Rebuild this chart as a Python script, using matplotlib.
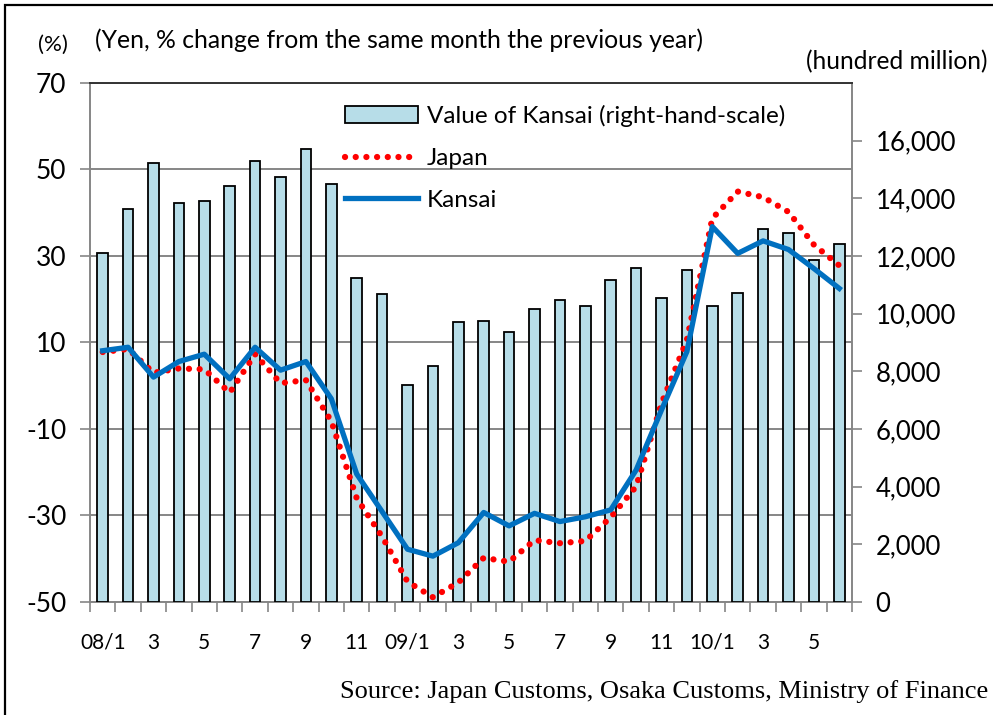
import matplotlib
matplotlib.use("Agg")
import matplotlib.pyplot as plt
import numpy as np
from matplotlib.patches import Rectangle

plt.rcParams['font.family'] = ['Lato', 'DejaVu Sans']

months = ["08/1", "08/2", "08/3", "08/4", "08/5", "08/6", "08/7", "08/8", "08/9", "08/10", "08/11", "08/12",
          "09/1", "09/2", "09/3", "09/4", "09/5", "09/6", "09/7", "09/8", "09/9", "09/10", "09/11", "09/12",
          "10/1", "10/2", "10/3", "10/4", "10/5", "10/6"]
tick_labels = ["08/1", "", "3", "", "5", "", "7", "", "9", "", "11", "",
               "09/1", "", "3", "", "5", "", "7", "", "9", "", "11", "",
               "10/1", "", "3", "", "5", ""]
value_kansai = [12100, 13640, 15240, 13830, 13910, 14440, 15300, 14750, 15720, 14500, 11250, 10690,
                7530, 8200, 9720, 9760, 9350, 10160, 10470, 10280, 11170, 11580, 10530, 11500,
                10270, 10700, 12950, 12790, 11860, 12420]
japan = [7.8, 8.5, 3.0, 4.0, 3.8, -1.6, 7.3, 0.6, 1.3, -8.2, -26.0, -34.9,
         -45.3, -48.9, -45.5, -39.8, -40.7, -35.7, -36.4, -35.9, -30.4, -23.3, -4.1, 10.6,
         38.7, 44.9, 43.6, 40.2, 32.6, 27.8]
kansai = [8.1, 8.9, 2.0, 5.6, 7.3, 1.6, 8.9, 3.6, 5.6, -3.0, -20.4, -29.1,
          -37.8, -39.4, -36.3, -29.3, -32.4, -29.5, -31.4, -30.3, -28.7, -19.5, -5.6, 7.9,
          36.8, 30.6, 33.5, 31.5, 27.1, 22.5]

W, H = 993, 715
fig = plt.figure(figsize=(W / 100, H / 100), dpi=100)

# outer border
fig.patches.append(Rectangle((5 / W, -0.1), 1.2, 1 - 5 / H + 0.1, transform=fig.transFigure,
                             fill=False, edgecolor='black', lw=1.6, zorder=0))

grey = '#868686'
x = np.arange(len(months))

ax = fig.add_axes([90 / W, 1 - 602 / H, 762 / W, 519 / H])
ax.set_xlim(-0.5, len(months) - 0.5)
ax.set_ylim(-50, 70)
ax.set_yticks(np.arange(-50, 71, 20))
ax.yaxis.grid(True, color=grey, lw=1.4)
ax.set_axisbelow(True)
ax.tick_params(axis='y', direction='out', length=7, color=grey, width=1.2, labelsize=19, pad=10)
ax.set_yticklabels([str(v) for v in range(-50, 71, 20)])
# x ticks: boundaries as minor ticks, labels at centers
ax.set_xticks(x)
ax.set_xticklabels(tick_labels)
ax.set_xticks(np.arange(-0.5, len(months), 1), minor=True)
ax.tick_params(axis='x', which='major', length=0, labelsize=15, pad=22)
ax.tick_params(axis='x', which='minor', direction='out', length=7, color=grey, width=1.2)
for s in ['left', 'bottom', 'right']:
    ax.spines[s].set_color(grey)
    ax.spines[s].set_linewidth(1.4)
ax.spines['top'].set_color('#333333')
ax.spines['top'].set_linewidth(1.4)

ax_bar = ax.twinx()
ax_bar.set_ylim(0, 18000)
ax_bar.set_yticks(np.arange(0, 16001, 2000))
ax_bar.set_yticklabels([f"{v:,}" for v in range(0, 16001, 2000)])
ax_bar.tick_params(axis='y', direction='out', length=7, color=grey, width=1.2, labelsize=18.5, pad=10)
for s in ax_bar.spines.values():
    s.set_visible(False)
bars = ax_bar.bar(x, value_kansai, width=0.42, color='#B7DDE8', edgecolor='black', lw=1.3,
                  label='Value of Kansai (right-hand-scale)')

ax_line = ax.twinx()
ax_line.set_ylim(-50, 70)
ax_line.yaxis.set_visible(False)
for s in ax_line.spines.values():
    s.set_visible(False)
l_jp, = ax_line.plot(x, japan, color='#FF0000', lw=4.5, ls=(0, (0.01, 1.7)),
                     dash_capstyle='round', label='Japan')
l_ks, = ax_line.plot(x, kansai, color='#0070C0', lw=3.8, label='Kansai',
                     solid_joinstyle='round')

fig.legend(handles=[bars, l_jp, l_ks], loc='upper left', bbox_to_anchor=(345 / W, 1 - 105 / H),
           frameon=False, fontsize=17.5, handlelength=3.0, handletextpad=0.38,
           labelspacing=0.86, borderpad=0, borderaxespad=0)

fig.text(38 / W, 1 - 45 / H, "(%)", fontsize=16, va='center', ha='left')
fig.text(95 / W, 1 - 40 / H, "(Yen, % change from the same month the previous year)",
         fontsize=17.8, va='center', ha='left')
fig.text(988 / W, 1 - 62 / H, "(hundred million)", fontsize=17.7, va='center', ha='right')
fig.text(988 / W, 1 - 692 / H, "Source: Japan Customs, Osaka Customs, Ministry of Finance",
         fontsize=19, va='center', ha='right', family=['Liberation Serif', 'DejaVu Serif'])

fig.savefig("out.png", dpi=100)
